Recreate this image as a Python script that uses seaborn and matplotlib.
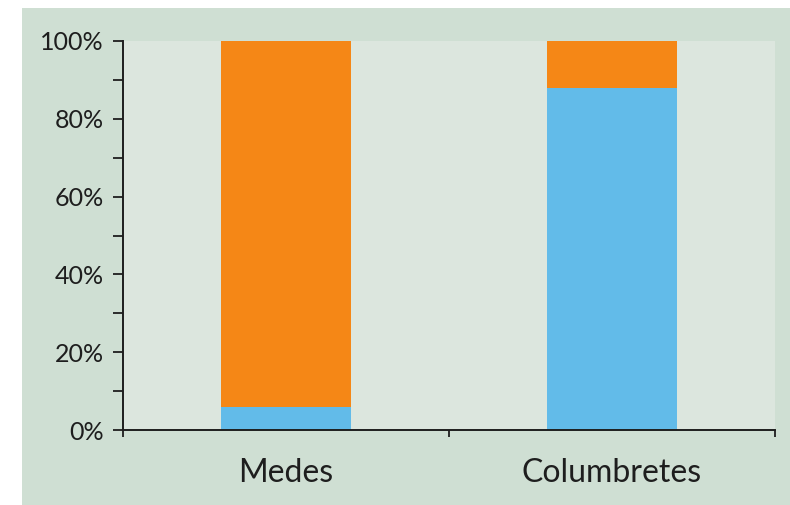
import matplotlib
matplotlib.use("Agg")
import matplotlib.pyplot as plt
from matplotlib.patches import Rectangle
from matplotlib.ticker import MultipleLocator, FuncFormatter, FixedLocator
import seaborn as sns
import pandas as pd

# Share of each component per site (percent)
categories = ["Medes", "Columbretes"]
blue_share = [6, 88]
orange_share = [94, 12]
y_ticks = [0, 20, 40, 60, 80, 100]

ORANGE = "#F58716"
BLUE = "#62BBE9"
PANEL = "#DCE6DE"
OUTER = "#CFDFD3"
INK = "#1E1E1E"

sns.set_theme(style="white")
plt.rcParams["font.family"] = ["Lato", "DejaVu Sans"]

fig = plt.figure(figsize=(7.9, 5.05), dpi=100, facecolor="white")
# tinted backdrop behind the chart
fig.patches.append(Rectangle((22 / 790, 0), 1, 1 - 8 / 505, transform=fig.transFigure,
                             facecolor=OUTER, edgecolor="none", zorder=-10))

ax = fig.add_axes([123 / 790, 1 - 430 / 505, 652 / 790, 389 / 505])
ax.set_facecolor(PANEL)

df = pd.DataFrame({
    "site": categories,
    "blue": blue_share,
    "total": [b + o for b, o in zip(blue_share, orange_share)],
})

sns.barplot(data=df, x="site", y="total", color=ORANGE, width=0.4,
            saturation=1, linewidth=0, ax=ax, zorder=2)
sns.barplot(data=df, x="site", y="blue", color=BLUE, width=0.4,
            saturation=1, linewidth=0, ax=ax, zorder=3)

ax.set_xlim(-0.5, 1.5)
ax.set_ylim(0, 100)
ax.set_xlabel("")
ax.set_ylabel("")

for side in ("top", "right"):
    ax.spines[side].set_visible(False)
for side in ("left", "bottom"):
    ax.spines[side].set_color(INK)
    ax.spines[side].set_linewidth(1.4)
    ax.spines[side].set_zorder(4)

ax.yaxis.set_major_locator(FixedLocator(y_ticks))
ax.yaxis.set_minor_locator(MultipleLocator(10))
ax.yaxis.set_major_formatter(FuncFormatter(lambda v, _: f"{v:.0f}%"))
ax.tick_params(axis="y", which="both", direction="out", length=7, width=1.3,
               color=INK, left=True, labelsize=18, labelcolor=INK, pad=7)

ax.xaxis.set_minor_locator(FixedLocator([-0.5, 0.5, 1.5]))
ax.tick_params(axis="x", which="minor", direction="out", length=5, width=1.3,
               color=INK, bottom=True)
ax.tick_params(axis="x", which="major", length=0, labelsize=23,
               labelcolor=INK, pad=20)

fig.savefig("out.png", dpi=100, facecolor="white")
